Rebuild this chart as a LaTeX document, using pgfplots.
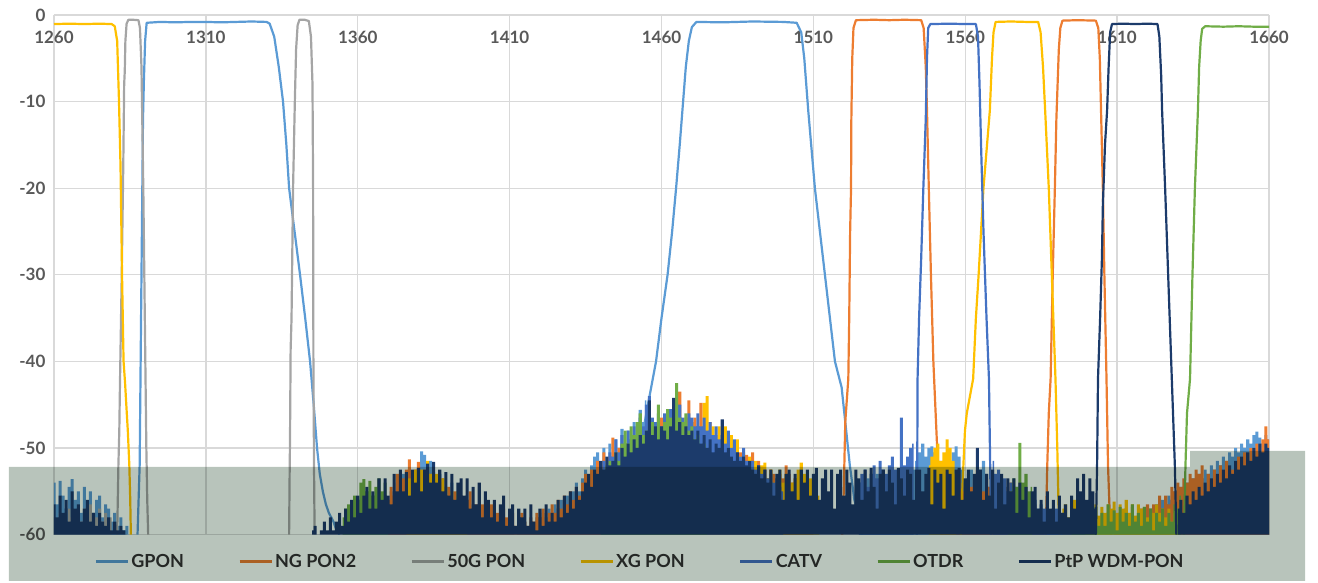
\documentclass[border=0pt]{standalone}
\usepackage{pgfplots}
\pgfplotsset{compat=1.18}
\usepackage{fontspec}
\setmainfont{Lato}
\definecolor{cGPON}{HTML}{5B9BD5}
\definecolor{cNG}{HTML}{ED7D31}
\definecolor{cFG}{HTML}{A5A5A5}
\definecolor{cXG}{HTML}{FFC000}
\definecolor{cCATV}{HTML}{4472C4}
\definecolor{cOTDR}{HTML}{70AD47}
\definecolor{cPtP}{HTML}{1C3B6B}
\definecolor{gridc}{HTML}{D9D9D9}
\definecolor{labc}{HTML}{595959}
\definecolor{legc}{HTML}{333333}
\definecolor{bandc}{RGB}{184,196,187}
\pgfplotsset{pb/.style={line width=2.2pt, line join=round, mark=none, color=#1}}
% noise floor of a series: values at 1 nm steps from the given start wavelength
\newcommand\nz[3]{\addplot[forget plot, draw=none, fill=#1, const plot mark mid] table[header=false,row sep=\\,x expr={#2+\coordindex},y index=0]{#3} |- (axis cs:#2,-60) -- cycle;}
\begin{document}
\begin{tikzpicture}
\path[use as bounding box] (-54pt,-48.4pt) rectangle (1264pt,534.6pt);
\begin{axis}[
  at={(0pt,0pt)}, anchor=south west,
  x=3.0375pt, y=8.66pt,
  xmin=1260, xmax=1660, ymin=-60, ymax=0,
  axis line style={draw=none},
  xtick={1260,1310,1360,1410,1460,1510,1560,1610,1660},
  xticklabels={1260,1310,1360,1410,1460,1510,1560,1610,1660},
  ytick={-60,-50,-40,-30,-20,-10,0},
  yticklabels={-60,-50,-40,-30,-20,-10,0},
  xticklabel pos=upper,
  major tick length=0pt,
  grid=major, grid style={draw=gridc, line width=1.3pt},
  tick label style={font=\fontsize{17}{17}\selectfont\bfseries, text=labc},
  xticklabel style={anchor=base, yshift=-28.5pt},
  yticklabel style={anchor=east, xshift=-5pt},
  legend columns=7,
  legend cell align=left,
  legend style={at={(0.4823,-0.0522)}, anchor=center, draw=none, fill=none,
    font=\fontsize{18}{18}\selectfont\bfseries, text=legc,
    /tikz/every even column/.append style={column sep=52pt}},
  legend image code/.code={\draw[#1, line width=3pt] (0pt,0pt) -- (32pt,0pt);},
]
%%%%% GPON
\nz{cGPON}{1260}{-54\\-56.5\\-53.8\\-55.5\\-57\\-54.5\\-53.6\\-56\\-55\\-57.5\\-54.5\\-56.5\\-55\\-57.5\\-56\\-55.5\\-58\\-56.5\\-57\\-58.5\\-57.5\\-59\\-58\\-59.5\\-59\\-60\\-60\\-60\\}
\nz{cGPON}{1370}{-57\\-55\\-56.5\\-54\\-55.5\\-53\\-54.5\\-53.5\\-55\\-53\\
-52.5\\-50.4\\-50.8\\-53\\-51.5\\-52.8\\-54\\-53\\-55\\-54.5\\
-55.5\\-54\\-56\\-55\\-57\\-56\\-57.5\\-56.5\\-58\\-57\\
-58\\-57.5\\-58.5\\-58\\-59\\-58\\-59\\-58.5\\-59.5\\-59\\
-59.5\\-59\\-60\\-59.5\\-59\\-58.5\\-59.5\\-58.5\\-59\\-58\\
-58.5\\-57.5\\-58\\-57\\-57.5\\-56.5\\-57\\-56\\-56.5\\-55.5\\
-56\\-55\\-54\\-55\\-53.5\\-52.5\\-53.5\\-52\\-51\\-50.5\\
-52\\-50\\-52.5\\-49.5\\-51.5\\-49\\-51\\-47.8\\-50\\-48\\
-50.5\\-47\\-49.5\\-45.6\\-47\\-44.5\\}
\nz{cGPON}{1525}{-55\\-54\\-56\\-53.5\\-55.5\\-54.5\\-53\\-55\\-56\\-54\\
-53.5\\-55\\-54\\-52.5\\-54.5\\-53\\-55\\-54\\-52.5\\-51.5\\
-50.5\\-49.5\\-51\\-50\\-49.8\\-50.5\\-52\\-51.5\\-53\\-52.5\\
-51.5\\-50.5\\-49.8\\-51\\-52.5\\-54\\-53\\-52.5\\-54\\-53.5\\
-52.5\\-51.5\\-53\\-54.5\\-53.5\\-55\\-54\\-56\\-55\\-54.5\\
-56\\-55\\-56.5\\-55.5\\-57\\-56\\-57.5\\-56.5\\-58\\-57\\
-57.5\\-58.5\\-57\\-58\\-59\\-58.5\\-58\\-59\\-58.5\\-59.5\\
-59\\-58.5\\-59.5\\-58\\-59\\-58.5\\-59.5\\-59\\-58.5\\-59\\
-58.5\\-59.5\\-59\\-58\\-59\\-58.5\\-59.5\\-58.5\\-59\\-58\\
-58.5\\-59\\-58\\-58.5\\-57.5\\-58\\-57\\-57.5\\-56.5\\-57\\
-56\\-56.5\\-55.5\\-56\\-55\\-55.5\\-54.5\\-55\\-54\\-54.5\\
-53.5\\-54\\-53\\-53.5\\-52.5\\-53\\-52\\-52.5\\-51.5\\-52\\
-51\\-51.5\\-50.5\\-51\\-50\\-50.5\\-49.5\\-50\\-49\\-49.5\\
-48.5\\-48.1\\-48.8\\-49.5\\-48.5\\-49\\}
\addplot[pb=cGPON] coordinates {(1287.5,-60)(1288.2,-52)(1288.8,-30)(1289.3,-12)(1289.6,-7.5)(1290,-3)(1290.5,-0.9)(1295,-0.8)(1300,-0.85)(1305,-0.8)(1310,-0.8)(1315,-0.85)(1320,-0.8)(1325,-0.75)(1330,-0.8)(1331,-1.0)(1332.5,-2.5)(1334,-6)(1335.4,-10)(1336.5,-15)(1337.4,-20)(1339.2,-25)(1341,-30)(1342.7,-35)(1344.3,-40)(1345.5,-45)(1346.6,-50)(1347.5,-53)(1348.5,-55)(1349.5,-56.5)(1350.5,-57.5)(1352,-58.5)(1353,-59.5)(1354,-60)};
\addplot[pb=cGPON, forget plot] coordinates {(1449,-60)(1452,-52)(1455,-46)(1458.2,-40)(1460,-35)(1462,-30)(1463.5,-25)(1464.8,-20)(1466,-15)(1467,-10.5)(1468,-6)(1469,-3)(1470,-1.4)(1471.5,-0.8)(1480,-0.85)(1490,-0.75)(1500,-0.8)(1504.5,-0.9)(1506,-2)(1507,-5)(1508.3,-11)(1510.5,-20)(1513.8,-30)(1517.1,-40)(1519.3,-43)(1520.5,-47)(1522,-52)(1523.5,-56)(1525,-58)(1526,-60)};
%%%%% NG PON2
\nz{cNG}{1370}{-56\\-54.5\\-55.5\\-53\\-54.5\\-53.5\\-52.5\\-51.3\\-53\\-52.5\\
-51.6\\-53\\-52.5\\-54\\-53\\-53.5\\-55\\-54\\-53.5\\-55.5\\
-54.5\\-56\\-55\\-56.5\\-55.5\\-57\\-56\\-55\\-57\\-56.5\\
-57.5\\-56.5\\-58\\-57\\-56.5\\-58\\-57.5\\-58.5\\-57\\-58\\
-58.5\\-57.5\\-59\\-58\\-57.5\\-58.5\\-59\\-58\\-58.5\\-57.5\\
-58\\-57\\-58.5\\-57.5\\-56.5\\-57.5\\-56\\-57\\-55.5\\-56.5\\
-55\\-56\\-54.5\\-55.5\\-54\\-53\\-54\\-52.5\\-53.5\\-51.5\\
-52\\-50.5\\-53\\-51\\-48.8\\-51.5\\-50\\-52\\-49.5\\-51\\
-49.5\\-50.5\\-48.5\\-49\\-48\\-49.5\\-47.5\\-48.5\\-47\\-48\\
-46.5\\-47.5\\-46\\-47\\-46.5\\-47\\-43.5\\-47\\-46.5\\-44.5\\
-47\\-46.5\\-47.5\\-44.8\\-47.5\\-48\\-47\\-49\\-48.5\\-49.5\\
-50\\-49\\-51\\-50.5\\-50\\-51.5\\-50.5\\-52\\-50.8\\-52.5\\
-50.5\\-52.5\\-51.5\\-53\\-52.5\\-53.5\\-52.5\\-53\\-54\\-53\\
-53.5\\-52\\-53\\-54\\-53.5\\-54.5\\-53\\-54\\-55\\-54\\-55.5\\}
\nz{cNG}{1552}{-52\\-53\\-54\\-52.5\\-53.5\\-54.5\\-53\\-55\\-54\\-53.5\\
-54.5\\-53.5\\-52.5\\-54\\-55\\-53.5\\-54.5\\-55.5\\-54\\-55\\
-56\\-54.5\\-55.5\\-54\\-56\\-55\\-56.5\\-55.5\\-57\\-56\\
-57\\-56.5\\-58\\-57.5\\-59\\}
\nz{cNG}{1609}{-59\\-58\\-57.5\\-58.5\\-57\\-58.5\\-56.8\\-58\\-58.5\\-57\\
-58.5\\-56.5\\-58\\-56.5\\-57.5\\-55.5\\-57\\-55.5\\-56.5\\-54.5\\
-55\\-54\\-54.5\\-53.5\\-54\\-53\\-53.5\\-52.5\\-53\\-52\\
-55\\-53\\-54.5\\-52.5\\-54\\-52\\-53.5\\-51.5\\-53\\-52.5\\
-52\\-51\\-52.5\\-50.5\\-51.5\\-50\\-52\\-49.5\\-50.5\\-49\\
-47.5\\-49\\}
\addplot[pb=cNG] coordinates {(1519.5,-60)(1520,-55)(1520.5,-47)(1521.5,-42)(1521.8,-35)(1522.1,-25)(1522.4,-20)(1522.5,-12)(1522.8,-5)(1523.2,-1.5)(1524,-0.6)(1530,-0.55)(1535,-0.6)(1540,-0.55)(1545.5,-0.6)(1546.3,-1.5)(1547,-6)(1547.4,-11)(1548,-20)(1548.7,-30)(1549.5,-40)(1550.5,-48)(1551,-52)(1551.5,-56)(1552,-60)};
\addplot[pb=cNG, forget plot] coordinates {(1586.5,-60)(1587,-52)(1587.5,-46)(1588.1,-42)(1588.8,-30)(1589.5,-20)(1590,-12)(1590.4,-8)(1590.8,-4)(1591.3,-1.5)(1592,-0.65)(1597,-0.6)(1603,-0.65)(1603.8,-1.5)(1604.3,-5)(1604.7,-11)(1605.3,-20)(1605.8,-30)(1606.5,-42)(1607,-52)(1607.5,-57)(1608,-60)};
%%%%% 50G PON
\nz{cFG}{1260}{-58\\-59\\-57.5\\-58.5\\-59\\-57\\-58\\-59.5\\-57.5\\-58.5\\-57\\-58\\-56.5\\-57.5\\-58\\-57\\-58.5\\-57.5\\-59\\-58\\}
\addplot[pb=cFG] coordinates {(1280.8,-60)(1281.2,-52)(1281.5,-48)(1281.7,-43)(1282.3,-30)(1282.8,-17.5)(1283.1,-8)(1283.3,-6.5)(1283.5,-3)(1283.9,-1)(1284.5,-0.55)(1286,-0.55)(1287.8,-0.6)(1288.3,-1.5)(1288.8,-6)(1289.4,-20)(1289.9,-35)(1290.4,-50)(1290.7,-56)(1291,-60)};
\addplot[pb=cFG, forget plot] coordinates {(1337.4,-60)(1337.6,-52)(1337.7,-49)(1337.9,-38.7)(1338.2,-35)(1338.7,-20)(1339.3,-9.8)(1339.7,-4)(1340.2,-1.2)(1340.8,-0.55)(1342.5,-0.55)(1343.9,-0.7)(1344.6,-2.5)(1345.1,-8)(1345.3,-20)(1345.4,-40)(1345.6,-52)(1345.8,-60)};
%%%%% XG PON
\nz{cXG}{1376}{-55\\-53.5\\-54.5\\-52.5\\-53\\-52.5\\-53.5\\-51.5\\-53\\-54\\-53\\-55\\-53.5\\-54.5\\-56\\-55\\-56.5\\-55\\-57\\-56\\-57.5\\}
\nz{cXG}{1468}{-48.5\\-47.5\\-47\\-49\\-47.5\\-48\\-44.8\\-44\\-48.5\\-47.5\\
-49\\-47.5\\-49.5\\-47.5\\-49.5\\-48.5\\-50.5\\-49\\-51\\-50.5\\
-52\\-51\\-52.5\\-51.5\\-53\\-52\\-51.7\\-53.5\\-52.5\\-54\\
-53.5\\-52.5\\-54\\-53\\-55\\-54\\-53.5\\-52.5\\-51.7\\-53\\
-54\\-53.5\\-55\\-54\\-55.5\\}
\nz{cXG}{1548}{-52\\-51\\-50\\-49.5\\-51.5\\-50.5\\-49\\-50\\-51.5\\-53\\}
\nz{cXG}{1592}{-57\\-56.5\\-58\\-57\\-56\\-57.5\\-56.5\\-58\\-57\\-56.5\\
-57.5\\-56.5\\-57.8\\-56.8\\-57.5\\-56.5\\-57\\-56.2\\-57.5\\-56.5\\
-57\\-56\\-57.5\\-56.5\\-57.8\\-56.5\\-57\\-56.8\\-58\\-57\\
-57.5\\-56.5\\-57.5\\-57\\-58\\-57\\-58.5\\-57.5\\-58\\}
\addplot[pb=cXG] coordinates {(1260,-1.05)(1265,-1.0)(1270,-1.05)(1275,-1.0)(1279,-1.05)(1280,-1.3)(1280.8,-3)(1281.4,-10)(1281.9,-17.5)(1282.4,-30)(1282.9,-40)(1283.4,-42.5)(1283.8,-45)(1284.3,-48)(1284.8,-52)(1285.1,-56)(1285.3,-60)};
\addplot[pb=cXG, forget plot] coordinates {(1558.5,-60)(1559,-55)(1559.9,-48)(1560.5,-46)(1562.6,-42)(1563.5,-35)(1564.4,-30)(1566,-20)(1568.1,-11)(1568.8,-5)(1569.3,-2)(1570,-0.8)(1575,-0.75)(1580,-0.8)(1584,-0.8)(1584.8,-2)(1585.6,-6)(1586.3,-11)(1587.5,-20)(1588.5,-30)(1589.7,-42)(1590.3,-50)(1590.6,-55)(1591,-60)};
%%%%% CATV
\nz{cCATV}{1440}{-53\\-51.5\\-52.5\\-50.5\\-51\\-49\\-50.5\\-48.5\\-49.5\\-48\\
-49\\-47.5\\-48.5\\-46.5\\-47.5\\-45\\-44\\-46.5\\-47\\-46\\
-47.5\\-46\\-47\\-45.5\\-46\\-47\\-45\\-46.5\\-47.5\\-46\\
-46.5\\-47.5\\-46\\-47.5\\-46.5\\-48\\-47\\-48.5\\-47.5\\-49\\
-48.5\\-49.5\\-48\\-50\\-49\\-50.5\\-51\\-50\\-51.5\\-52\\
-51.5\\-52.5\\-52\\-53\\-52.5\\-53.5\\-53\\-54\\-53.5\\-54.5\\-55\\}
\nz{cCATV}{1525}{-54\\-53\\-52.5\\-54.5\\-53\\-52\\-53.5\\-51.5\\-52.5\\-53\\-52\\-51\\-52.5\\-53\\-46.5\\-52\\-51\\-50\\-49.5\\}
\nz{cCATV}{1569}{-51.5\\-53\\-52.5\\-54\\-53.5\\-55\\-54\\-55.5\\-54.5\\-56\\
-55\\-56.5\\-55.5\\-57\\-56\\-57.5\\-56.5\\-57\\-56\\-57.5\\
-58\\-57\\-58.5\\-57.5\\-58\\-59\\-58\\-58.5\\-59.5\\-58.5\\-59\\-60\\}
\addplot[pb=cCATV] coordinates {(1544,-60)(1544.2,-52)(1544.3,-42)(1544.8,-35)(1545.5,-28)(1546.2,-20)(1547,-12)(1547.4,-5)(1547.8,-1.5)(1548.5,-1.05)(1555,-1.0)(1560,-1.05)(1563.5,-1.05)(1564.2,-2.5)(1564.7,-8)(1565.2,-15)(1566,-25)(1567,-35)(1567.8,-42)(1568.2,-52)(1568.5,-60)};
%%%%% OTDR
\nz{cOTDR}{1355}{-58\\-57\\-56.5\\-57.5\\-55.5\\-56\\-54\\-53.6\\-55\\-53.8\\-55.5\\-54.5\\-53.5\\-55\\-54\\-56\\}
\nz{cOTDR}{1440}{-54\\-53\\-52\\-51.5\\-52\\-50.5\\-51.5\\-49.5\\
-48\\-49.5\\-47.5\\-48.5\\-47\\-46\\-48.5\\-48\\-47.5\\-47\\-48\\-45\\-48.5\\-47\\-45.5\\
-46.5\\-46\\-42.5\\-46.5\\-47\\-46\\-48\\-47.5\\-49\\-48.5\\-50\\-49.5\\-51\\}
\nz{cOTDR}{1574}{-56\\-55\\-53.5\\-54.5\\-49.4\\-54\\-53\\-55\\-54.5\\}
\nz{cOTDR}{1595}{-57\\-59\\-56.5\\-58.5\\-57\\-59.5\\-57.5\\-58\\-56.8\\-59\\
-57.5\\-59\\-56.5\\-58.5\\-57.2\\-59.5\\-56.8\\-58.5\\-57.5\\-59\\
-56.5\\-58.5\\-57.5\\-59\\-56.8\\-58.5\\-57\\-59.5\\-57.5\\-58.5\\
-57\\-59\\-57.5\\-58.5\\-56.5\\-57\\-55.5\\}
\addplot[pb=cOTDR] coordinates {(1632,-60)(1632.5,-52)(1633,-46)(1634,-42)(1634.8,-30)(1635.6,-20)(1636.6,-11)(1637,-6)(1637.5,-3)(1638,-1.6)(1639,-1.3)(1645,-1.35)(1650,-1.3)(1655,-1.35)(1660,-1.35)};
%%%%% PtP WDM-PON
\nz{cPtP}{1260}{-56.5\\-58\\-55.5\\-57.5\\-56\\-58.5\\-55\\-57\\-56.5\\-58.5\\-57\\-56\\-58.5\\-57.5\\-59\\-57.5\\-58.5\\-59\\-58\\-59.5\\-58.5\\-59.5\\-59\\-59.5\\-60\\}
\nz{cPtP}{1345}{-59.5\\-59\\-60\\-59.5\\-58.5\\-59.5\\-58\\-59.5\\-58.5\\-57.5\\
-59\\-57\\-58.5\\-56\\-58\\-55.5\\-57.5\\-55.5\\-54.5\\-57\\
-55\\-57\\-53.5\\-56\\-53.5\\-55.5\\-56.5\\-53\\-55\\-52.5\\
-55\\-52.8\\-55.5\\-52.5\\-54\\-52.3\\-55\\-52.5\\-51.8\\-54\\
-51.6\\-54\\-52.5\\-55\\-52.8\\-55.5\\-53\\-56\\-54\\-53.5\\
-55.5\\-53.5\\-57\\-54.5\\-56.5\\-54\\-58\\-55\\-56\\-58\\
-56\\-58.5\\-56.5\\-55.5\\-59\\-57\\-56.5\\-59\\-57\\-58\\
-57\\-59\\-56.5\\-58.5\\-59.5\\-57\\-59\\-56.5\\-58.5\\-57.5\\
-58.5\\-56\\-58\\-55.5\\-57.5\\-55\\-57\\-54.5\\-56\\-55\\
-54\\-53\\-54.5\\-52.5\\-53\\-51.5\\-52.5\\-51\\-52\\-51.5\\
-50.5\\-52\\-50\\-51\\-49.5\\-50.5\\-49\\-50\\-48.5\\-49.5\\
-48\\-44.5\\-48.5\\-47.5\\-49\\-47.5\\-48\\-49\\-47.5\\-44.2\\
-48\\-47\\-48.5\\-47.5\\-48.5\\-48\\-49\\-48\\-49.5\\-48.5\\
-50\\-49\\-50.5\\-49.5\\-50\\-46.7\\-50.5\\-50\\-51\\-51.5\\
-50.5\\-51.5\\-51\\-52\\-51.5\\-52.5\\-53\\-52\\-53.5\\-52.5\\
-54\\-52.5\\-55.5\\-53\\-52.5\\-56\\-53\\-52.5\\-55\\-53\\
-56\\-52.5\\-54\\-52.5\\-55.5\\-53\\-52.3\\-56\\-53.5\\-52.5\\
-55\\-52.5\\-57\\-53\\-52.5\\-55.5\\-52.5\\-54\\-56.5\\-52.5\\
-53.5\\-56\\-52.5\\-55\\-52.3\\-54.5\\-57\\-53\\-52.5\\-55\\
-52.5\\-54\\-56.5\\-52.3\\-53.5\\-55.5\\-52.5\\-53\\-56\\-52.5\\
-52.5\\-55\\-53\\-52.3\\-56.5\\-52.5\\-54\\-53\\-57\\-52.5\\
-53\\-55.5\\-52.5\\-52.3\\-56\\-53.5\\-52.5\\-55\\-53\\-50\\
-52.5\\-56\\-53\\-55.5\\-52.5\\-57\\-54\\-53\\-56.5\\-53.5\\
-55\\-53.5\\-57.5\\-54\\-56\\-54.5\\-58\\-55\\-54.5\\-57\\
-56\\-58.5\\-55\\-57\\-56\\-58.5\\-55.5\\-57.5\\-56.5\\-58\\
-55.5\\-57\\-53.5\\-55\\-53\\-56\\-53.5\\-55\\-57\\}
\nz{cPtP}{1630}{-57\\-56\\-57.5\\-55.5\\-56.5\\-55\\-56\\-54.5\\-55.5\\-54\\
-55\\-53.5\\-54.5\\-53\\-54\\-52.5\\-53.5\\-52\\-53\\-51.5\\
-52.5\\-51\\-52\\-50.5\\-51.5\\-50\\-51\\-49.5\\-50.5\\-49.5\\-50\\}
\addplot[pb=cPtP] coordinates {(1603,-60)(1603.4,-52)(1603.7,-42)(1604.4,-35)(1605,-28)(1605.3,-22)(1606,-15)(1606.7,-11)(1607.2,-6)(1607.7,-2)(1608.3,-1.05)(1612,-1.0)(1616,-1.05)(1620,-1.0)(1623.3,-1.05)(1623.9,-2.5)(1624.5,-7)(1624.8,-11)(1625.8,-20)(1626.8,-30)(1628,-42)(1629,-52)(1629.5,-60)};
\legend{GPON,NG PON2,50G PON,XG PON,CATV,OTDR,PtP WDM-PON}
\end{axis}
\fill[bandc, blend mode=multiply] (-45pt,-46.4pt) -- (1251pt,-46.4pt) -- (1251pt,83.6pt) -- (1136pt,83.6pt) -- (1136pt,67.6pt) -- (-45pt,67.6pt) -- cycle;
\end{tikzpicture}
\end{document}
